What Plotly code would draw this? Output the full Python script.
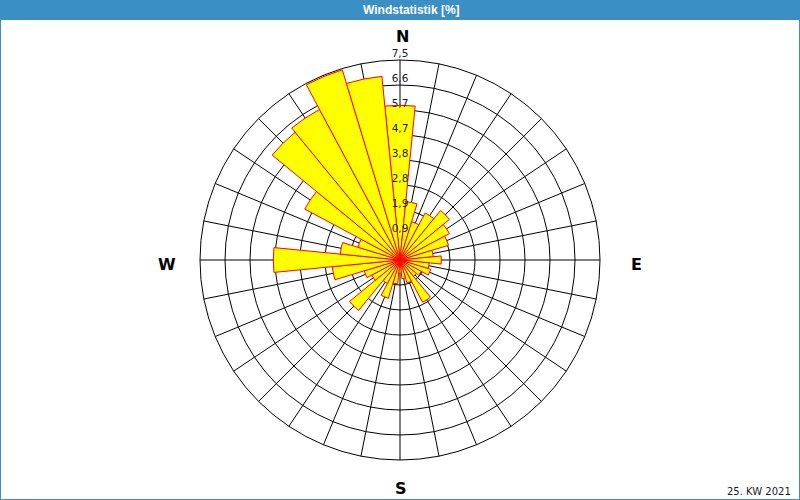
import plotly.graph_objects as go

# Wind directions (degrees, clockwise from north) and frequency in %
directions = [0, 11.25, 22.5, 33.75, 45, 56.25, 67.5, 78.75,
              90, 101.25, 112.5, 123.75, 135, 146.25, 157.5, 168.75,
              180, 191.25, 202.5, 213.75, 225, 236.25, 247.5, 258.75,
              270, 281.25, 292.5, 303.75, 315, 326.25, 337.5, 348.75]
frequency = [5.8, 2.2, 1.5, 2.0, 2.4, 2.1, 1.9, 1.25,
             1.55, 1.1, 1.2, 0.9, 0.8, 1.8, 0.9, 0.7,
             0.5, 0.9, 1.5, 1.0, 2.45, 1.2, 1.4, 2.55,
             4.75, 2.25, 1.65, 4.05, 6.2, 6.4, 7.45, 6.92]

ring_values = [0.9375, 1.875, 2.8125, 3.75, 4.6875, 5.625, 6.5625, 7.5]
ring_labels = ["0,9", "1,9", "2,8", "3,8", "4,7", "5,7", "6,6", "7,5"]
compass = ["N", "E", "S", "W"]
title_text = "Windstatistik [%]"
footer_text = "25. KW 2021"

fig = go.Figure()
fig.add_trace(go.Barpolar(
    r=frequency, theta=directions, width=[11.25] * len(directions),
    marker=dict(color="#ffff00", line=dict(color="#ff0000", width=1)),
    hoverinfo="skip", showlegend=False,
))
fig.add_trace(go.Scatterpolar(
    r=ring_values, theta=[0] * len(ring_values), mode="text",
    text=ring_labels, textposition="top center",
    textfont=dict(family="DejaVu Sans", size=10.5, color="#1a1a2a"),
    hoverinfo="skip", showlegend=False, cliponaxis=False,
))

compass_font = dict(family="DejaVu Sans", size=16, color="black")
compass_pos = [(402.5, 36.5), (636, 264.5), (401, 488), (167, 264.5)]
annotations = [
    dict(text="<b>" + title_text + "</b>", xref="paper", yref="paper",
         x=0.514, y=0.98, showarrow=False,
         font=dict(family="Liberation Sans", size=12, color="white"),
         xanchor="center", yanchor="middle"),
    dict(text=footer_text, xref="paper", yref="paper", x=0.991, y=0.018,
         showarrow=False, xanchor="right", yanchor="middle",
         font=dict(family="DejaVu Sans", size=10, color="#1a1a2a")),
]
for label, (px, py) in zip(compass, compass_pos):
    annotations.append(dict(text="<b>" + label + "</b>", xref="paper", yref="paper",
                            x=px / 800, y=1 - py / 500, showarrow=False,
                            xanchor="center", yanchor="middle", font=compass_font))

fig.update_layout(
    width=800, height=500,
    margin=dict(l=0, r=0, t=0, b=0),
    paper_bgcolor="white",
    polar=dict(
        domain=dict(x=[0.25, 0.75], y=[0.08, 0.88]),
        bgcolor="white",
        radialaxis=dict(range=[0, 7.5], tickvals=ring_values, showticklabels=False,
                        ticks="", showline=False, gridcolor="black", gridwidth=1),
        angularaxis=dict(rotation=90, direction="clockwise",
                         tickvals=directions, showticklabels=False, ticks="",
                         showgrid=True, gridcolor="black", gridwidth=1,
                         showline=True, linecolor="black", linewidth=1),
    ),
    shapes=[
        dict(type="rect", xref="paper", yref="paper", x0=0, x1=1, y0=0, y1=1,
             line=dict(color="#3a8fc4", width=2), fillcolor="rgba(0,0,0,0)"),
        dict(type="rect", xref="paper", yref="paper", x0=0, x1=1, y0=0.96, y1=1,
             line=dict(width=0), fillcolor="#3a8fc4"),
    ],
    annotations=annotations,
)

fig.write_html("out.html", config={"displayModeBar": False, "staticPlot": True},
               post_script="document.body.style.margin='0';document.body.style.overflow='hidden';")
